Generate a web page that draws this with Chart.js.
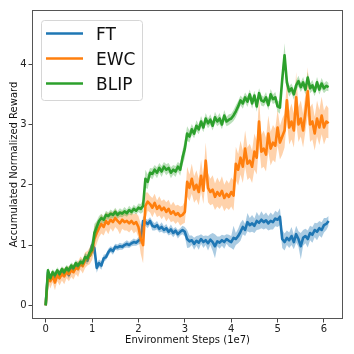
<!DOCTYPE html>
<html>
<head>
<meta charset="utf-8">
<script src="https://cdn.jsdelivr.net/npm/chart.js@4.4.1/dist/chart.umd.min.js"></script>
<style>
html,body{margin:0;padding:0;background:#fff;}
#wrap{width:354px;height:354px;position:relative;}
</style>
</head>
<body>
<div id="wrap"><canvas id="c" width="354" height="354"></canvas></div>
<script>
// ---- data (x grid: environment steps in units of 1e7, every 0.05) ----
const seriesNames = ["FT", "EWC", "BLIP"];
const xTicks = [0, 1, 2, 3, 4, 5, 6];
const yTicks = [0, 1, 2, 3, 4];

const ft = [0.0,
 0.55,0.45,0.50,0.42,0.50,0.48,0.55,0.52,0.58,0.50,0.62,0.60,0.66,0.63,0.70,0.68,0.78,0.74,0.85,
 1.00,0.95,0.62,0.70,0.66,0.78,0.80,0.88,0.93,0.90,0.97,0.96,0.98,0.97,1.00,1.02,1.00,1.03,1.05,1.04,
 1.07,1.10,1.40,1.38,1.35,1.40,1.32,1.30,1.33,1.27,1.30,1.25,1.28,1.22,1.26,1.20,1.24,1.18,1.22,1.25,
 1.22,1.10,1.06,1.08,1.02,1.07,1.04,1.10,1.05,1.08,1.03,1.09,1.05,0.98,1.06,1.04,1.08,1.05,1.10,1.07,
 1.05,1.12,1.10,1.15,1.22,1.30,1.25,1.38,1.33,1.36,1.32,1.40,1.37,1.42,1.38,1.41,1.36,1.40,1.38,1.44,
 1.42,1.47,1.10,1.05,1.12,1.08,1.15,1.05,1.18,1.10,0.98,1.12,1.15,1.10,1.20,1.17,1.25,1.22,1.28,1.25,
 1.33,1.35,1.40];
const ftSpread = [0.02,
 0.05,0.06,0.05,0.07,0.05,0.06,0.05,0.07,0.05,0.06,0.05,0.06,0.05,0.07,0.06,0.05,0.08,0.06,0.07,
 0.10,0.12,0.08,0.06,0.07,0.06,0.05,0.06,0.05,0.06,0.05,0.05,0.06,0.05,0.05,0.06,0.05,0.05,0.06,0.05,
 0.06,0.08,0.08,0.06,0.07,0.06,0.08,0.06,0.07,0.06,0.08,0.06,0.07,0.06,0.08,0.07,0.06,0.07,0.06,0.07,
 0.08,0.15,0.10,0.08,0.10,0.08,0.12,0.08,0.10,0.08,0.12,0.09,0.15,0.20,0.08,0.10,0.09,0.11,0.08,0.10,
 0.10,0.20,0.10,0.12,0.15,0.12,0.10,0.15,0.12,0.14,0.12,0.15,0.11,0.14,0.12,0.13,0.12,0.14,0.12,0.13,
 0.12,0.14,0.15,0.14,0.12,0.13,0.15,0.12,0.14,0.13,0.22,0.13,0.12,0.14,0.12,0.13,0.12,0.14,0.12,0.13,
 0.12,0.10,0.08];

const ewc = [0.0,
 0.50,0.40,0.48,0.38,0.50,0.45,0.52,0.48,0.55,0.52,0.58,0.55,0.62,0.60,0.70,0.65,0.75,0.78,0.82,
 0.90,1.10,1.20,1.28,1.35,1.30,1.40,1.35,1.42,1.38,1.45,1.40,1.36,1.42,1.38,1.40,1.36,1.40,1.35,1.38,
 1.30,1.10,1.00,1.65,1.72,1.68,1.62,1.70,1.60,1.65,1.58,1.62,1.55,1.60,1.52,1.56,1.50,1.53,1.48,1.50,
 1.55,2.05,1.95,2.10,1.92,2.00,1.88,2.15,1.90,2.40,1.95,1.88,1.92,1.80,1.88,1.82,1.90,1.78,1.85,1.80,
 1.88,1.82,2.35,2.25,2.45,2.30,2.60,2.35,2.40,2.30,2.55,2.45,3.05,2.55,2.60,2.50,2.85,2.60,2.70,2.65,
 2.95,2.70,2.80,2.90,3.40,2.95,3.05,2.90,3.45,3.00,3.10,2.90,3.20,3.55,3.00,3.05,2.85,3.10,2.95,3.15,
 2.95,3.05,3.02];
const ewcSpread = [0.02,
 0.10,0.12,0.10,0.13,0.10,0.12,0.11,0.13,0.10,0.12,0.11,0.12,0.10,0.13,0.11,0.12,0.13,0.12,0.14,
 0.15,0.20,0.18,0.15,0.16,0.14,0.15,0.17,0.14,0.16,0.15,0.14,0.18,0.15,0.14,0.16,0.15,0.14,0.16,0.15,
 0.18,0.25,0.30,0.22,0.15,0.14,0.16,0.15,0.14,0.16,0.15,0.14,0.16,0.15,0.14,0.16,0.15,0.14,0.16,0.15,
 0.18,0.25,0.22,0.25,0.22,0.24,0.22,0.26,0.22,0.30,0.24,0.22,0.24,0.22,0.24,0.22,0.24,0.22,0.23,0.22,
 0.24,0.25,0.28,0.26,0.28,0.27,0.30,0.27,0.28,0.27,0.30,0.28,0.40,0.28,0.30,0.28,0.30,0.28,0.29,0.28,
 0.30,0.28,0.30,0.28,0.32,0.28,0.30,0.28,0.42,0.29,0.30,0.28,0.31,0.40,0.29,0.30,0.28,0.30,0.29,0.31,
 0.28,0.27,0.25];

const blip = [0.0,
 0.58,0.45,0.55,0.50,0.58,0.52,0.60,0.55,0.62,0.58,0.66,0.62,0.70,0.66,0.72,0.70,0.80,0.78,0.88,
 0.92,1.20,1.30,1.40,1.45,1.42,1.50,1.48,1.52,1.50,1.55,1.50,1.54,1.52,1.56,1.53,1.58,1.55,1.60,1.57,
 1.62,1.60,1.65,2.10,2.05,2.20,2.18,2.25,2.20,2.28,2.22,2.30,2.25,2.28,2.20,2.25,2.22,2.30,2.25,2.45,
 2.60,2.85,2.80,2.92,2.85,2.98,2.92,3.05,2.95,3.10,3.02,3.08,2.98,3.12,3.05,3.10,3.00,3.15,3.05,3.08,
 3.10,3.15,3.22,3.30,3.40,3.35,3.45,3.38,3.50,3.35,3.48,3.30,3.52,3.40,3.38,3.45,3.32,3.50,3.42,3.45,
 3.30,3.28,3.75,4.15,3.70,3.55,3.60,3.50,3.65,3.72,3.62,3.70,3.58,3.78,3.60,3.65,3.55,3.70,3.58,3.68,
 3.60,3.64,3.62];
const blipSpread = [0.02,
 0.05,0.06,0.05,0.06,0.05,0.06,0.05,0.06,0.05,0.06,0.05,0.06,0.05,0.06,0.05,0.06,0.07,0.06,0.08,
 0.10,0.15,0.10,0.08,0.07,0.06,0.07,0.06,0.07,0.06,0.07,0.06,0.07,0.06,0.07,0.06,0.07,0.06,0.07,0.06,
 0.07,0.08,0.10,0.15,0.12,0.08,0.09,0.08,0.09,0.08,0.09,0.08,0.09,0.08,0.09,0.08,0.09,0.08,0.10,0.12,
 0.15,0.12,0.10,0.09,0.08,0.09,0.08,0.09,0.08,0.09,0.08,0.09,0.08,0.09,0.08,0.09,0.08,0.09,0.08,0.09,
 0.08,0.09,0.10,0.09,0.08,0.09,0.08,0.09,0.08,0.09,0.08,0.09,0.08,0.09,0.08,0.09,0.08,0.09,0.08,0.09,
 0.09,0.10,0.15,0.20,0.12,0.09,0.08,0.09,0.08,0.09,0.08,0.09,0.08,0.09,0.08,0.09,0.08,0.09,0.08,0.09,
 0.08,0.08,0.07];

const steps = ft.map((_, i) => Math.round(i * 5) / 100);

// ---- styling ----
const colors = ["#1f77b4", "#ff7f0e", "#2ca02c"];
const bandColors = ["rgba(31,119,180,0.38)", "rgba(255,127,14,0.35)", "rgba(44,160,44,0.32)"];
const FONT = "'DejaVu Sans', 'Liberation Sans', sans-serif";

const means = [ft, ewc, blip];
const spreads = [ftSpread, ewcSpread, blipSpread];
const pts = (arr) => arr.map((v, i) => ({x: steps[i], y: v}));

const datasets = [];
means.forEach((m, k) => {
  const baseOrder = (3 - k) * 10;
  datasets.push({
    label: seriesNames[k] + " hi",
    data: pts(m.map((v, i) => v + spreads[k][i])),
    borderWidth: 0, pointRadius: 0, backgroundColor: bandColors[k],
    fill: "+1", order: baseOrder + 2, tension: 0
  });
  datasets.push({
    label: seriesNames[k] + " lo",
    data: pts(m.map((v, i) => v - spreads[k][i])),
    borderWidth: 0, pointRadius: 0, fill: false, order: baseOrder + 1, tension: 0
  });
  datasets.push({
    label: seriesNames[k],
    data: pts(m),
    borderColor: colors[k], borderWidth: 2.6, pointRadius: 0,
    fill: false, order: baseOrder, tension: 0,
    borderJoinStyle: "round", borderCapStyle: "butt"
  });
});

const framePlugin = {
  id: "frame",
  afterDraw(chart) {
    const {ctx, chartArea: a} = chart;
    ctx.save();
    ctx.strokeStyle = "#555";
    ctx.lineWidth = 1;
    ctx.strokeRect(Math.round(a.left) + 0.5, Math.round(a.top) + 0.5,
                   Math.round(a.right - a.left) - 1, Math.round(a.bottom - a.top) - 1);
    ctx.restore();
  }
};

const legendPlugin = {
  id: "boxLegend",
  afterDraw(chart) {
    const {ctx, chartArea: a} = chart;
    ctx.save();
    const x0 = a.left + 9, y0 = a.top + 10, w = 101, h = 80;
    ctx.beginPath();
    if (ctx.roundRect) ctx.roundRect(x0 + 0.5, y0 + 0.5, w, h, 3); else ctx.rect(x0 + 0.5, y0 + 0.5, w, h);
    ctx.fillStyle = "rgba(255,255,255,0.8)";
    ctx.fill();
    ctx.strokeStyle = "#d6d6d6";
    ctx.lineWidth = 1;
    ctx.stroke();
    ctx.font = "17px " + FONT;
    ctx.textBaseline = "alphabetic";
    ctx.textAlign = "left";
    seriesNames.forEach((name, i) => {
      const yc = y0 + 13.5 + i * 25;
      ctx.beginPath();
      ctx.moveTo(x0 + 5, yc);
      ctx.lineTo(x0 + 42, yc);
      ctx.strokeStyle = colors[i];
      ctx.lineWidth = 2.6;
      ctx.stroke();
      ctx.fillStyle = "#111";
      ctx.fillText(name, x0 + 55, yc + 6);
    });
    ctx.restore();
  }
};

new Chart(document.getElementById("c"), {
  type: "line",
  data: {datasets},
  options: {
    responsive: false,
    animation: false,
    devicePixelRatio: 1,
    layout: {padding: {top: 10, right: 11, left: 0, bottom: 0}},
    plugins: {legend: {display: false}, tooltip: {enabled: false}},
    elements: {line: {borderJoinStyle: "round"}},
    scales: {
      x: {
        type: "linear", min: -0.295, max: 6.41,
        afterBuildTicks: (s) => { s.ticks = xTicks.map(v => ({value: v})); },
        ticks: {font: {family: FONT, size: 10}, color: "#222", padding: 1, maxRotation: 0, includeBounds: false},
        grid: {drawOnChartArea: false, drawTicks: true, tickLength: 3.5, color: "#444"},
        border: {display: false},
        title: {display: true, text: "Environment Steps (1e7)", font: {family: FONT, size: 10}, color: "#111",
                padding: {top: 0, bottom: 8}},
        afterFit: (s) => { s.height = 35; }
      },
      y: {
        type: "linear", min: -0.227, max: 4.90,
        afterBuildTicks: (s) => { s.ticks = yTicks.map(v => ({value: v})); },
        ticks: {font: {family: FONT, size: 10}, color: "#222", padding: 2, includeBounds: false},
        grid: {drawOnChartArea: false, drawTicks: true, tickLength: 3.5, color: "#444"},
        border: {display: false},
        title: {display: true, text: "Accumulated Normalized Reward", font: {family: FONT, size: 10}, color: "#111",
                padding: {top: 8, bottom: 0}},
        afterFit: (s) => { s.width = 32; }
      }
    }
  },
  plugins: [framePlugin, legendPlugin]
});
</script>
</body>
</html>
